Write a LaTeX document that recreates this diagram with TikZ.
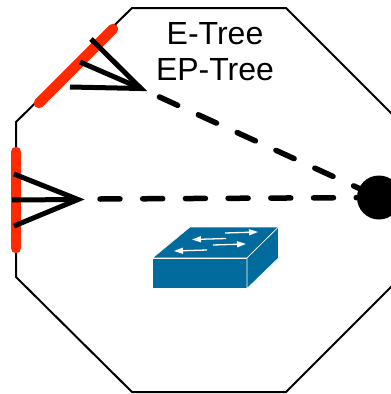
\documentclass[tikz,border=0pt]{standalone}
\usepackage{fontspec}
\setmainfont{Liberation Sans}
\usetikzlibrary{arrows.meta}
\definecolor{redbar}{HTML}{FF2A00}
\definecolor{switchblue}{HTML}{006B9C}
\tikzset{
  redseg/.style={draw=redbar,line width=10.5pt,line cap=round},
  fanline/.style={draw=black,line width=5pt,line join=miter,miter limit=10},
  dashline/.style={draw=black,line width=5.5pt,line cap=round,dash pattern=on 20pt off 22.7pt},
  swface/.style={fill=switchblue,draw=white,line width=0.6pt,line join=round},
  swarrow/.style={draw=white,line width=1.3pt,-{Triangle[length=9pt,width=6pt]}},
  label/.style={font=\fontsize{32}{36}\selectfont,align=center,inner sep=0pt}
}
\begin{document}
\begin{tikzpicture}[x=1pt,y=-1pt]
\useasboundingbox (0,0) rectangle (391,394);
\clip (0,0) rectangle (391,394);
\draw[line width=2pt,line join=miter] (132,8) -- (286,8) -- (402,124) -- (402,276) -- (286,392) -- (132,392) -- (16,277) -- (16,122) -- cycle;
\draw[redseg] (39,103) -- (113,29);
\draw[redseg] (16,152) -- (16,248);
\coordinate (tipA) at (141,88.5);
\coordinate (tipB) at (78,199.5);
\coordinate (a1) at (91,39);
\coordinate (a2) at (80,62);
\coordinate (a3) at (70,87);
\coordinate (b1) at (14,174);
\coordinate (b2) at (12,200);
\coordinate (b3) at (14,226);
\draw[fanline] (a1) -- (tipA) -- (a3);
\draw[fanline] (a2) -- (tipA);
\draw[fanline] (b1) -- (tipB) -- (b3);
\draw[fanline] (b2) -- (tipB);
\coordinate (dashA) at (159.5,97);
\coordinate (dashB) at (100,199);
\coordinate (hubc) at (379,197.5);
\draw[dashline] (dashA) -- (hubc);
\draw[dashline] (dashB) -- (hubc);
\node[circle,fill=black,minimum size=44pt,inner sep=0pt] (hub) at (hubc) {};
\node[label] (title) at (215,52) {E-Tree\\EP-Tree};
\path[swface] (152.5,258) -- (190,227) -- (278.5,227) -- (247,258) -- cycle;
\path[swface] (152.5,258) -- (247,258) -- (247,288.5) -- (152.5,288.5) -- cycle;
\path[swface] (247,258) -- (278.5,227) -- (278.5,258) -- (247,288.5) -- cycle;
\draw[swarrow] (225,233) -- (258,232);
\draw[swarrow] (226,238.5) -- (192,239.5);
\draw[swarrow] (213,245) -- (246,244);
\draw[swarrow] (207,250) -- (174,251);
\end{tikzpicture}
\end{document}
